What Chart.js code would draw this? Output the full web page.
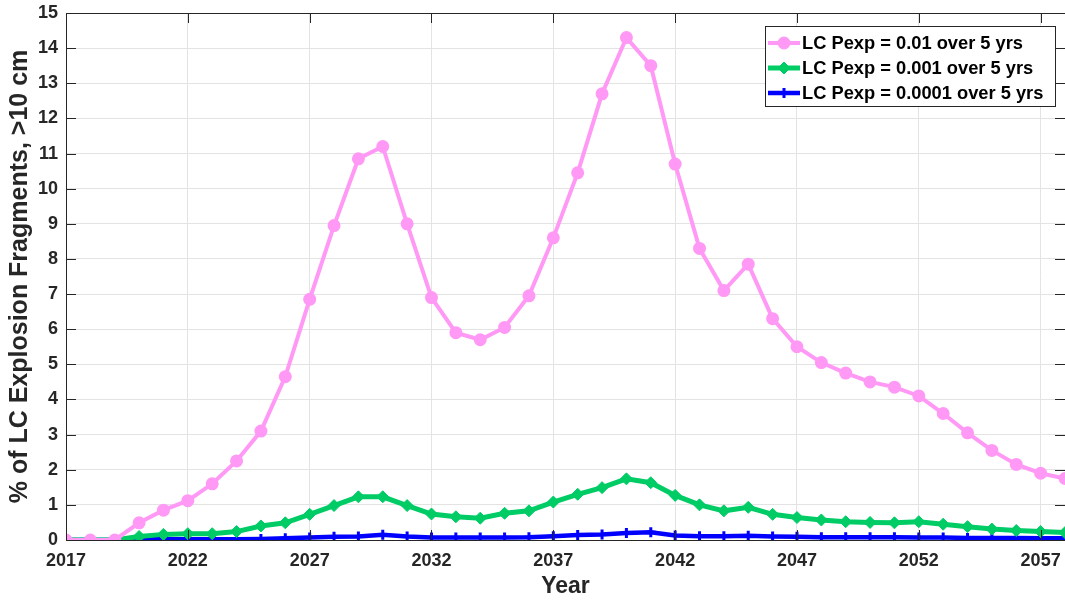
<!DOCTYPE html>
<html>
<head>
<meta charset="utf-8">
<script src="https://cdn.jsdelivr.net/npm/chart.js@4"></script>
<style>
  html,body{margin:0;padding:0;background:#fff}
  #wrap{width:1065px;height:600px}
</style>
</head>
<body>
<div id="wrap"><canvas id="myChart"></canvas></div>
<script>
// values
var years = [2017,2018,2019,2020,2021,2022,2023,2024,2025,2026,2027,2028,2029,2030,2031,2032,2033,2034,2035,2036,2037,
             2038,2039,2040,2041,2042,2043,2044,2045,2046,2047,2048,2049,2050,2051,2052,2053,2054,2055,2056,2057,2058]
var pexp01 = [0,0,0,0.49,0.85,1.12,1.6,2.25,3.1,4.65,6.85,8.95,10.85,11.2,9.0,6.9,5.9,5.7,6.05,6.95,8.6,
              10.45,12.7,14.3,13.5,10.7,8.3,7.1,7.85,6.3,5.5,5.05,4.75,4.5,4.35,4.1,3.6,3.05,2.55,2.15,1.9,1.75]
var pexp001 = [0,0,0,0.1,0.16,0.18,0.18,0.24,0.4,0.49,0.73,0.98,1.23,1.23,0.98,0.74,0.66,0.62,0.76,0.83,1.08,
               1.3,1.49,1.74,1.63,1.27,1.0,0.83,0.93,0.73,0.64,0.57,0.52,0.5,0.49,0.52,0.45,0.38,0.31,0.27,0.24,0.21]
var pexp0001 = [0,0,0,0.02,0.02,0.02,0.02,0.02,0.03,0.05,0.07,0.09,0.1,0.15,0.1,0.07,0.07,0.07,0.07,0.08,0.11,
                0.14,0.16,0.2,0.22,0.13,0.11,0.11,0.12,0.1,0.09,0.08,0.08,0.08,0.08,0.07,0.07,0.06,0.06,0.06,0.05,0.05]
var xTicks = [2017,2022,2027,2032,2037,2042,2047,2052,2057]
var seriesNames = ["LC Pexp = 0.01 over 5 yrs","LC Pexp = 0.001 over 5 yrs","LC Pexp = 0.0001 over 5 yrs"]

function pts(vals){
  return years.map(function(y,i){ return {x:y, y:vals[i]} })
}

var axisColor = "#262626"
var font = "'Liberation Sans', Arial, Helvetica, sans-serif"

// box round the plot and inward tick marks, like the original figure
var boxPlugin = {
  id:"box",
  afterDraw:function(chart){
    var ctx = chart.ctx, a = chart.chartArea
    var xs = chart.scales.x, ys = chart.scales.y
    ctx.save()
    ctx.strokeStyle = axisColor
    ctx.lineWidth = 1
    ctx.beginPath()
    ctx.rect(a.left+0.5, a.top+0.5, a.right-a.left, a.bottom-a.top)
    xs.ticks.forEach(function(t){
      var px = Math.round(xs.getPixelForValue(t.value))+0.5
      ctx.moveTo(px, a.bottom); ctx.lineTo(px, a.bottom-10)
      ctx.moveTo(px, a.top); ctx.lineTo(px, a.top+10)
    })
    ys.ticks.forEach(function(t){
      var py = Math.round(ys.getPixelForValue(t.value))+0.5
      ctx.moveTo(a.left, py); ctx.lineTo(a.left+10, py)
      ctx.moveTo(a.right, py); ctx.lineTo(a.right-10, py)
    })
    ctx.stroke()
    ctx.restore()
  }
}

// legend drawn with line + marker samples
var legendPlugin = {
  id:"boxLegend",
  afterDraw:function(chart){
    var ctx = chart.ctx
    var x0 = 765, y0 = 26, w = 290, h = 80
    ctx.save()
    ctx.fillStyle = "#fff"
    ctx.fillRect(x0, y0, w, h)
    ctx.strokeStyle = axisColor
    ctx.lineWidth = 1
    ctx.strokeRect(x0+0.5, y0+0.5, w, h)
    chart.data.datasets.forEach(function(ds, i){
      var cy = y0 + 17 + i*25
      ctx.strokeStyle = ds.borderColor
      ctx.lineWidth = ds.borderWidth
      ctx.beginPath(); ctx.moveTo(x0+3, cy); ctx.lineTo(x0+35, cy); ctx.stroke()
      ctx.fillStyle = ds.pointBackgroundColor
      ctx.strokeStyle = ds.pointBorderColor
      ctx.lineWidth = ds.pointBorderWidth
      Chart.helpers.drawPoint(ctx, {pointStyle:ds.pointStyle, radius:ds.pointRadius, rotation:0, borderWidth:ds.pointBorderWidth}, x0+19, cy)
      ctx.fillStyle = "#000"
      ctx.font = "bold 18.3px " + font
      ctx.textBaseline = "middle"
      ctx.fillText(ds.label, x0+37, cy+1)
    })
    ctx.restore()
  }
}

var myChart = document.getElementById("myChart").getContext("2d")

var chart = new Chart(myChart,{
  type:"line",
  data:{
    datasets:[
      {
        label:seriesNames[0],
        data:pts(pexp01),
        borderColor:"#ff99f5",
        borderWidth:4,
        pointStyle:"circle",
        pointRadius:5.5,
        pointBackgroundColor:"#ff99f5",
        pointBorderColor:"#ff99f5",
        pointBorderWidth:2
      },
      {
        label:seriesNames[1],
        data:pts(pexp001),
        borderColor:"#00cc66",
        borderWidth:5,
        pointStyle:"rectRot",
        pointRadius:6,
        pointBackgroundColor:"#00cc66",
        pointBorderColor:"#00cc66",
        pointBorderWidth:1
      },
      {
        label:seriesNames[2],
        data:pts(pexp0001),
        borderColor:"#0000ff",
        borderWidth:4.5,
        pointStyle:"cross",
        pointRadius:5,
        pointBackgroundColor:"#0000ff",
        pointBorderColor:"#0000ff",
        pointBorderWidth:3
      }
    ]
  },
  options:{
    responsive:true,
    maintainAspectRatio:false,
    animation:false,
    layout:{autoPadding:false,padding:{top:13,right:0,left:0,bottom:0}},
    plugins:{legend:{display:false},tooltip:{enabled:false}},
    scales:{
      x:{
        type:"linear",
        min:2017,
        max:2058,
        afterBuildTicks:function(s){ s.ticks = xTicks.map(function(v){ return {value:v} }) },
        afterFit:function(s){ s.height = 60; s.paddingRight = 0; s.paddingLeft = 0 },
        grid:{color:"#e3e3e3",drawTicks:false},
        border:{color:axisColor},
        ticks:{
          color:axisColor,
          padding:10,
          maxRotation:0,
          font:{family:font,size:18,weight:"bold"},
          callback:function(v){ return String(v) }
        },
        title:{display:true,text:"Year",color:axisColor,padding:{top:0,bottom:0},
               font:{family:font,size:23,weight:"bold"}}
      },
      y:{
        min:0,
        max:15,
        afterFit:function(s){ s.width = 66; s.paddingTop = 0; s.paddingBottom = 0 },
        grid:{color:"#e3e3e3",drawTicks:false},
        border:{color:axisColor},
        ticks:{
          stepSize:1,
          color:axisColor,
          padding:8,
          font:{family:font,size:18,weight:"bold"}
        },
        title:{display:true,text:"% of LC Explosion Fragments, >10 cm",color:axisColor,padding:{top:5,bottom:0},
               font:{family:font,size:25,weight:"bold"}}
      }
    }
  },
  plugins:[boxPlugin, legendPlugin]
})
</script>
</body>
</html>
